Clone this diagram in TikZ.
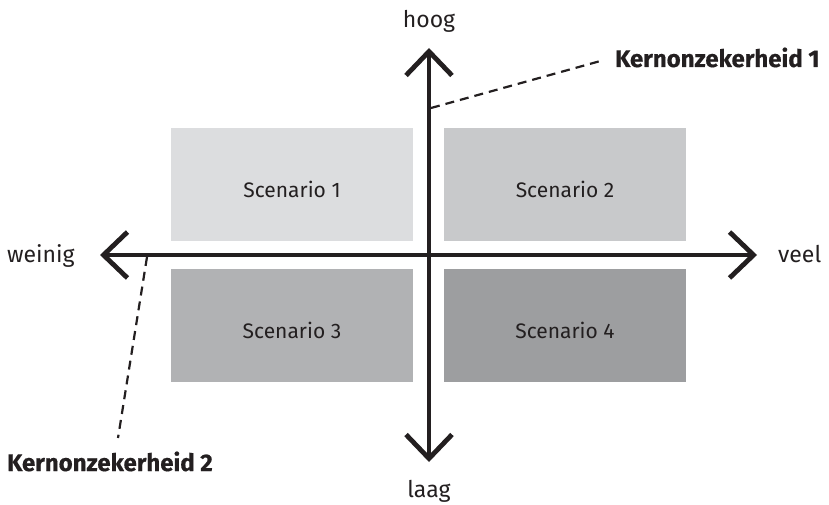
\documentclass[tikz,border=0pt]{standalone}
\usepackage{fontspec}
\setmainfont{Fira Sans}
\usetikzlibrary{arrows.meta}
\definecolor{cA}{HTML}{DCDDDF}
\definecolor{cB}{HTML}{C8C9CB}
\definecolor{cC}{HTML}{B1B2B4}
\definecolor{cD}{HTML}{9D9EA0}
\definecolor{ink}{HTML}{231F20}
\tikzset{
  box/.style={draw=none, inner sep=0pt, minimum width=242pt, minimum height=113pt, font=\fontsize{21}{24}\selectfont, text=ink, text height=25pt, text depth=0pt},
  lbl/.style={inner sep=0pt, font=\fontsize{23}{26}\selectfont, text=ink},
  key/.style={inner sep=0pt, font=\fontsize{24}{27}\selectfont\bfseries\addfontfeature{FakeBold=0.6}, text=ink},
  axis/.style={draw=ink, line width=4.8pt, {Straight Barb[length=24pt,width=46pt,line width=4.8pt]}-{Straight Barb[length=24pt,width=46pt,line width=4.8pt]}},
  guide/.style={draw=ink, line width=2.2pt, dash pattern=on 9pt off 6pt},
}
\begin{document}
\begin{tikzpicture}[x=1pt,y=-1pt]
\useasboundingbox (0,0) rectangle (829,505);
\node[box, fill=cA] (s1) at (292,184.5) {Scenario 1};
\node[box, fill=cB] (s2) at (565,184.5) {Scenario 2};
\node[box, fill=cC] (s3) at (292,325.5) {Scenario 3};
\node[box, fill=cD] (s4) at (565,325.5) {Scenario 4};
\coordinate (top) at (429,48);
\coordinate (bot) at (429,462);
\coordinate (lft) at (100,255);
\coordinate (rgt) at (757,255);
\draw[axis] (bot) -- (top);
\draw[axis] (lft) -- (rgt);
\node[lbl, anchor=base] (hoog) at (429,28) {hoog};
\node[lbl, anchor=base] (laag) at (429,497) {laag};
\node[lbl, anchor=base west] (weinig) at (7,262) {weinig};
\node[lbl, anchor=base west] (veel) at (778,262) {veel};
\node[key, anchor=base west] (k1) at (615,67) {Kernonzekerheid 1};
\node[key, anchor=base west] (k2) at (7,471) {Kernonzekerheid 2};
\coordinate (p1) at (431,108);
\coordinate (e1) at (604,60);
\coordinate (p2) at (147,257);
\coordinate (e2) at (118,438);
\draw[guide] (p1) -- (e1);
\draw[guide] (p2) -- (e2);
\end{tikzpicture}
\end{document}
